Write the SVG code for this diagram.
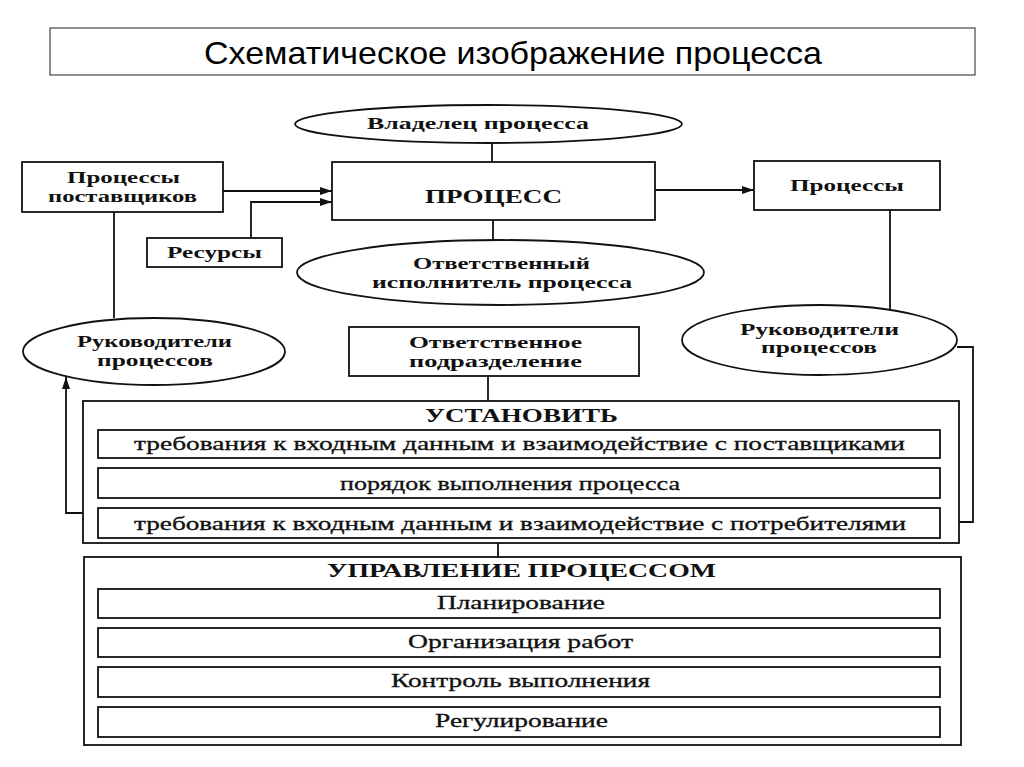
<svg xmlns="http://www.w3.org/2000/svg" width="1024" height="767" viewBox="0 0 1024 767">
<defs>
<style>
.bx{fill:#fff;stroke:#111;stroke-width:1.8}
.ln{fill:none;stroke:#111;stroke-width:1.8}
.t{font-family:"Liberation Serif","Times New Roman",serif;fill:#111;font-size:17px;font-weight:bold}
.r{font-family:"Liberation Serif","Times New Roman",serif;fill:#111;font-size:18px;stroke:#111;stroke-width:0.3}
.h{font-family:"Liberation Serif","Times New Roman",serif;fill:#111;font-size:18px;font-weight:bold}
.ti{font-family:"Liberation Sans",Arial,sans-serif;fill:#000;font-size:32px}
</style>
<marker id="ah" viewBox="0 0 12 8" refX="12" refY="4" markerWidth="12" markerHeight="8" markerUnits="userSpaceOnUse" orient="auto">
<path d="M0,0 L12,4 L0,8 Z" fill="#111"/>
</marker>
</defs>
<rect width="1024" height="767" fill="#fff"/>

<g id="title">
<rect x="50" y="28" width="925" height="47" fill="#fff" stroke="#444" stroke-width="1.2"/>
<text class="ti" x="204" y="64" textLength="618" lengthAdjust="spacingAndGlyphs">Схематическое изображение процесса</text>
</g>

<g id="connectors">
<path class="ln" d="M492,143 V162"/>
<path class="ln" d="M493,220 V240"/>
<path class="ln" d="M114,212 V318"/>
<path class="ln" d="M890,210 V310"/>
<path class="ln" d="M957,347 H973 V522 H959"/>
<path class="ln" d="M488,376 V401"/>
<path class="ln" d="M498,543 V557"/>
<path class="ln" d="M223,191 H332" marker-end="url(#ah)"/>
<path class="ln" d="M251,238 V202 H332" marker-end="url(#ah)"/>
<path class="ln" d="M655,190 H754" marker-end="url(#ah)"/>
<path class="ln" d="M83,513 H66 V377" marker-end="url(#ah)"/>
</g>

<g id="owner">
<ellipse class="bx" cx="488.5" cy="124" rx="193.5" ry="19"/>
<text class="t" x="367" y="129" textLength="222" lengthAdjust="spacingAndGlyphs">Владелец процесса</text>
</g>

<g id="process">
<rect class="bx" x="332" y="162" width="323" height="58"/>
<text class="t" x="425" y="203" style="font-size:19px" textLength="137" lengthAdjust="spacingAndGlyphs">ПРОЦЕСС</text>
</g>

<g id="supplier-processes">
<rect class="bx" x="22" y="162" width="201" height="50"/>
<text class="t" x="67" y="183" textLength="113" lengthAdjust="spacingAndGlyphs">Процессы</text>
<text class="t" x="48" y="202" textLength="149" lengthAdjust="spacingAndGlyphs">поставщиков</text>
</g>

<g id="resources">
<rect class="bx" x="147" y="238" width="135" height="29"/>
<text class="t" x="167" y="258" textLength="95" lengthAdjust="spacingAndGlyphs">Ресурсы</text>
</g>

<g id="executor">
<ellipse class="bx" cx="500.5" cy="272.5" rx="203.5" ry="32.5"/>
<text class="t" x="413" y="269" textLength="177" lengthAdjust="spacingAndGlyphs">Ответственный</text>
<text class="t" x="372" y="288" textLength="260" lengthAdjust="spacingAndGlyphs">исполнитель процесса</text>
</g>

<g id="processes-right">
<rect class="bx" x="754" y="161" width="186" height="49"/>
<text class="t" x="790" y="191" textLength="114" lengthAdjust="spacingAndGlyphs">Процессы</text>
</g>

<g id="managers-left">
<ellipse class="bx" cx="154" cy="351.5" rx="131" ry="33.5"/>
<text class="t" x="77" y="347" textLength="155" lengthAdjust="spacingAndGlyphs">Руководители</text>
<text class="t" x="97" y="366" textLength="116" lengthAdjust="spacingAndGlyphs">процессов</text>
</g>

<g id="managers-right">
<ellipse class="bx" cx="819.5" cy="340" rx="137.5" ry="35"/>
<text class="t" x="740" y="335" textLength="159" lengthAdjust="spacingAndGlyphs">Руководители</text>
<text class="t" x="761" y="353" textLength="116" lengthAdjust="spacingAndGlyphs">процессов</text>
</g>

<g id="department">
<rect class="bx" x="349" y="327" width="290" height="49"/>
<text class="t" x="409" y="348" textLength="173" lengthAdjust="spacingAndGlyphs">Ответственное</text>
<text class="t" x="409" y="367" textLength="173" lengthAdjust="spacingAndGlyphs">подразделение</text>
</g>

<g id="establish">
<rect class="bx" x="83" y="401" width="876" height="142"/>
<text class="h" x="425" y="422" textLength="193" lengthAdjust="spacingAndGlyphs">УСТАНОВИТЬ</text>
<rect class="bx" x="98" y="430" width="842" height="28"/>
<text class="r" x="134" y="450" textLength="771" lengthAdjust="spacingAndGlyphs">требования к входным данным и взаимодействие с поставщиками</text>
<rect class="bx" x="98" y="468" width="842" height="30"/>
<text class="r" x="340" y="490" textLength="340" lengthAdjust="spacingAndGlyphs">порядок выполнения процесса</text>
<rect class="bx" x="98" y="508" width="842" height="30"/>
<text class="r" x="134" y="530" textLength="772" lengthAdjust="spacingAndGlyphs">требования к входным данным и взаимодействие с потребителями</text>
</g>

<g id="management">
<rect class="bx" x="84" y="557" width="877" height="188"/>
<text class="h" x="327" y="577" textLength="389" lengthAdjust="spacingAndGlyphs">УПРАВЛЕНИЕ ПРОЦЕССОМ</text>
<rect class="bx" x="98" y="589" width="842" height="29"/>
<text class="r" x="437" y="609" textLength="168" lengthAdjust="spacingAndGlyphs">Планирование</text>
<rect class="bx" x="98" y="628" width="842" height="29"/>
<text class="r" x="408" y="648" textLength="225" lengthAdjust="spacingAndGlyphs">Организация работ</text>
<rect class="bx" x="98" y="667" width="842" height="30"/>
<text class="r" x="391" y="687" textLength="259" lengthAdjust="spacingAndGlyphs">Контроль выполнения</text>
<rect class="bx" x="98" y="707" width="842" height="30"/>
<text class="r" x="435" y="727" textLength="173" lengthAdjust="spacingAndGlyphs">Регулирование</text>
</g>
</svg>
